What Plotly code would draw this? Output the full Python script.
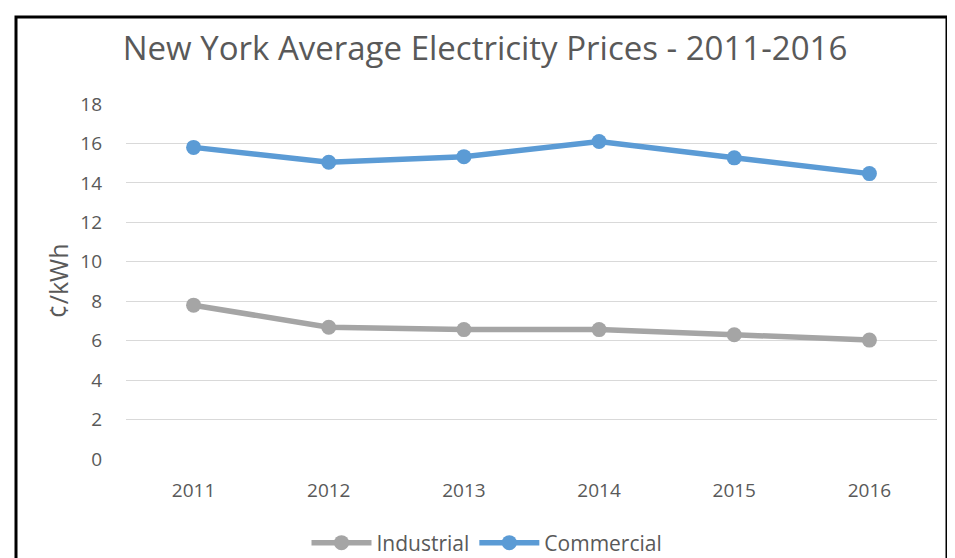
import plotly.graph_objects as go

years = ["2011", "2012", "2013", "2014", "2015", "2016"]
industrial = [7.8, 6.68, 6.56, 6.56, 6.3, 6.03]
commercial = [15.8, 15.05, 15.33, 16.1, 15.27, 14.47]
y_ticks = [0, 2, 4, 6, 8, 10, 12, 14, 16, 18]

FONT = "Open Sans"
TXT = "#595959"

# page body has an 8px margin; figure is sized to fill the rest of the window
OFF = 8
W, H = 955 - OFF, 558 - OFF
L, R, T, B = 126 - OFF, 18, 104 - OFF, 99
pw, ph = W - L - R, H - T - B


def px_x(page_x):
    return (page_x - OFF - L) / pw


def px_y(page_y):
    return (H - B - (page_y - OFF)) / ph


fig = go.Figure()
fig.add_trace(go.Scatter(
    x=years, y=industrial, name="Industrial", mode="lines+markers",
    line=dict(color="#A5A5A5", width=5.5),
    marker=dict(size=15, color="#A5A5A5")))
fig.add_trace(go.Scatter(
    x=years, y=commercial, name="Commercial", mode="lines+markers",
    line=dict(color="#5B9BD5", width=5.5),
    marker=dict(size=15, color="#5B9BD5")))

fig.add_shape(type="rect", xref="paper", yref="paper",
              x0=px_x(16), x1=px_x(947), y0=px_y(620), y1=px_y(17),
              line=dict(color="black", width=3), fillcolor="rgba(0,0,0,0)",
              layer="above")

fig.add_annotation(text="¢/kWh", xref="paper", yref="paper",
                   x=px_x(57), y=0.5, xanchor="center", yanchor="middle",
                   textangle=-90, showarrow=False,
                   font=dict(size=25, color=TXT, family=FONT))

fig.update_layout(
    width=W, height=H,
    margin=dict(l=L, r=R, t=T, b=B, autoexpand=False),
    paper_bgcolor="white", plot_bgcolor="white",
    font=dict(family=FONT, color=TXT, size=19),
    title=dict(text="New York Average Electricity Prices - 2011-2016",
               x=(485 - OFF) / W, xanchor="center", xref="container",
               y=1 - (48 - OFF) / H, yanchor="middle", yref="container",
               font=dict(size=33, color=TXT, family=FONT)),
    xaxis=dict(type="category", categoryorder="array", categoryarray=years,
               range=[-0.5, 5.5], showgrid=False, zeroline=False,
               showline=False, ticks="", ticklabelstandoff=18,
               automargin=False, tickfont=dict(size=19, color=TXT)),
    yaxis=dict(range=[0, 18], tickvals=y_ticks, autorange=False,
               showgrid=True, gridcolor="#D9D9D9", gridwidth=1.4,
               zeroline=False, showline=False, ticks="", automargin=False,
               ticklabelstandoff=23, tickfont=dict(size=19, color=TXT)),
    showlegend=True,
    legend=dict(orientation="h", xref="container", yref="container",
                x=(487 - OFF) / W, xanchor="center",
                y=1 - (543 - OFF) / H, yanchor="middle",
                font=dict(size=21, color=TXT), itemwidth=60,
                traceorder="normal"),
)

fig.write_html("out.html")
